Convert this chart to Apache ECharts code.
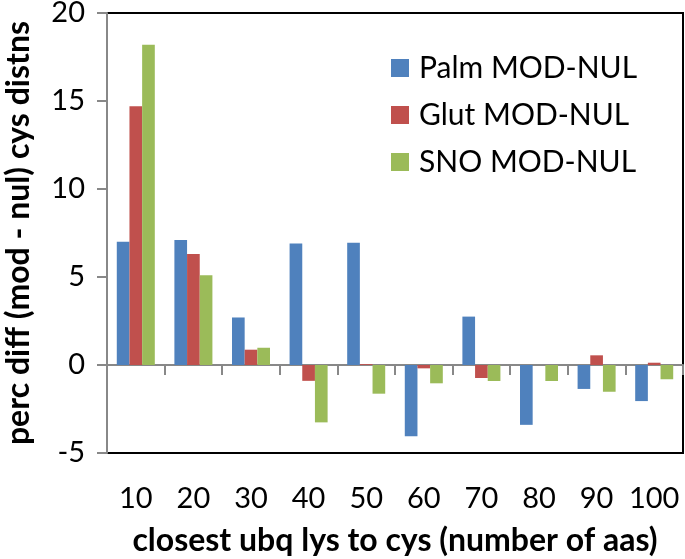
<!DOCTYPE html>
<html>
<head>
<meta charset="utf-8">
<script src="https://cdn.jsdelivr.net/npm/echarts@6/dist/echarts.min.js"></script>
<style>
html,body{margin:0;padding:0;background:#fff;}
#chart{width:685px;height:559px;}
</style>
</head>
<body>
<div id="chart"></div>
<script>
const categories = ['10','20','30','40','50','60','70','80','90','100'];
const palm = [7.0, 7.1, 2.7, 6.9, 6.95, -4.05, 2.75, -3.4, -1.36, -2.05];
const glut = [14.7, 6.3, 0.87, -0.9, 0.05, -0.19, -0.74, 0, 0.55, 0.13];
const sno  = [18.2, 5.1, 0.98, -3.26, -1.63, -1.04, -0.91, -0.91, -1.52, -0.81];
const seriesNames = ['Palm MOD-NUL', 'Glut MOD-NUL', 'SNO MOD-NUL'];
const colors = ['#4F81BD', '#C0504D', '#9BBB59'];

const FONT = 'Lato';
const chart = echarts.init(document.getElementById('chart'), null, {renderer:'canvas'});
chart.setOption({
  animation: false,
  color: colors,
  textStyle: {fontFamily: FONT},
  grid: {left:107, right:2, top:13, bottom:106, show:true, borderColor:'#000', borderWidth:2, backgroundColor:'transparent', containLabel:false, outerBoundsMode:'none'},
  legend: {
    orient:'vertical', left:386, top:48, itemWidth:18, itemHeight:18, itemGap:17,
    icon:'rect',
    textStyle:{fontFamily:FONT, fontSize:30, color:'#000', padding:[0,0,0,5]},
    data: seriesNames
  },
  xAxis: [
    {
      type:'category', data:categories, position:'bottom',
      axisLine:{show:true, onZero:true, lineStyle:{color:'#888', width:2}},
      axisTick:{show:true, length:10, inside:false, lineStyle:{color:'#888', width:2}},
      axisLabel:{show:false},
      splitLine:{show:false}
    },
    {
      type:'category', data:categories, position:'bottom',
      axisLine:{show:false, onZero:false},
      axisTick:{show:false},
      axisLabel:{show:true, interval:0, margin:31, fontSize:29, color:'#000', fontFamily:FONT},
      name:'closest ubq lys to cys (number of aas)', nameLocation:'middle', nameGap:72,
      nameTextStyle:{fontSize:32, fontWeight:'bold', color:'#000', fontFamily:FONT}
    }
  ],
  yAxis: {
    type:'value', min:-5, max:20, interval:5,
    axisLine:{show:true, lineStyle:{color:'#888', width:2}},
    axisTick:{show:true, length:10, lineStyle:{color:'#888', width:2}},
    axisLabel:{fontSize:29, color:'#000', margin:22, fontFamily:FONT},
    splitLine:{show:false},
    name:'perc diff (mod - nul) cys distns', nameLocation:'middle', nameGap:72,
    nameTextStyle:{fontSize:32, fontWeight:'bold', color:'#000', fontFamily:FONT}
  },
  series: [
    {name:seriesNames[0], type:'bar', data:palm, xAxisIndex:0, barGap:'0%', barCategoryGap:'34%'},
    {name:seriesNames[1], type:'bar', data:glut, xAxisIndex:0, barGap:'0%', barCategoryGap:'34%'},
    {name:seriesNames[2], type:'bar', data:sno, xAxisIndex:0, barGap:'0%', barCategoryGap:'34%'}
  ]
});
</script>
</body>
</html>
